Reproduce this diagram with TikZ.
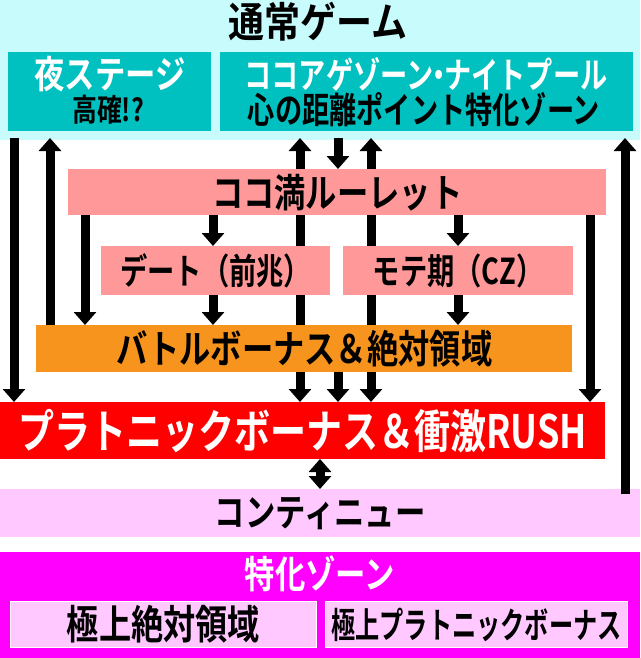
\documentclass[tikz,border=0pt]{standalone}
\usepackage{fontspec}
\setmainfont{Noto Sans CJK JP}[BoldFont={Noto Sans CJK JP Bold}]
\usetikzlibrary{arrows.meta}
\definecolor{cyanbg}{HTML}{C8FCFC}
\definecolor{teal}{HTML}{00C0C0}
\definecolor{pinkbox}{HTML}{FF9999}
\definecolor{orangebox}{HTML}{F7941D}
\definecolor{lpink}{HTML}{FFC8FF}
\definecolor{mag}{HTML}{FF00FF}
\newcommand{\cond}[1]{\scalebox{0.92}[1.15]{#1}}
\tikzset{
 box/.style={draw=none,inner sep=0pt,font=\bfseries},
 arr/.style={line width=9pt,-{Triangle[width=22pt,length=13pt]}},
 darr/.style={line width=9pt,{Triangle[width=22pt,length=13pt]}-{Triangle[width=22pt,length=13pt]}},
}
\begin{document}
\begin{tikzpicture}[x=1pt,y=-1pt]
\useasboundingbox (0,0) rectangle (640,658);
\fill[cyanbg] (0,0) rectangle (640,140);
\node[font=\bfseries\fontsize{36}{36}\selectfont] (title) at (318,22) {\scalebox{1}[1.15]{通常ゲーム}};
\node[box,fill=teal,minimum width=203pt,minimum height=79pt,anchor=north west] (yoru) at (8,52) {};
\node[box,fill=teal,minimum width=413pt,minimum height=79pt,anchor=north west] (cocoa) at (220,52) {};
% arrows behind boxes
\draw[arr] (14,138) -- (14,402);
\draw[arr] (50,325) -- (50,138);
\draw[arr] (85,215) -- (85,325);
\draw[darr] (300,138) -- (300,402);
\draw[darr] (371,138) -- (371,402);
\draw[arr] (338,138) -- (338,169);
\draw[arr] (338,372) -- (338,402);
\draw[arr] (213,215) -- (213,246);
\draw[arr] (213,295) -- (213,325);
\draw[arr] (458,215) -- (458,246);
\draw[arr] (458,295) -- (458,325);
\draw[arr] (590,215) -- (590,402);
\draw[darr] (320,459) -- (320,489);
% text boxes
\node[box,fill=pinkbox,minimum width=538pt,minimum height=46pt,anchor=north west,font=\bfseries\fontsize{34}{34}\selectfont] (coco) at (68,169) {\cond{ココ満ルーレット}};
\node[box,fill=pinkbox,minimum width=229pt,minimum height=49pt,anchor=north west,font=\bfseries\fontsize{31}{31}\selectfont] (date) at (101,246) {\scalebox{0.88}[1.15]{デート（前兆）}};
\node[box,fill=pinkbox,minimum width=230pt,minimum height=49pt,anchor=north west,font=\bfseries\fontsize{31}{31}\selectfont] (mote) at (343,246) {\scalebox{0.88}[1.15]{モテ期（CZ）}};
\node[box,fill=orangebox,minimum width=536pt,minimum height=47pt,anchor=north west,font=\bfseries\fontsize{34}{34}\selectfont] (battle) at (36,325) {\cond{バトルボーナス＆絶対領域}};
\node[box,fill=red,minimum width=605pt,minimum height=57pt,anchor=north west,text=white,font=\bfseries\fontsize{40}{40}\selectfont] (rush) at (0,402) {\scalebox{0.9}[1.15]{プラトニックボーナス＆衝激RUSH}};
\node[box,fill=lpink,minimum width=640pt,minimum height=48pt,anchor=north west,font=\bfseries\fontsize{33}{33}\selectfont] (cont) at (0,489) {\cond{コンティニュー}};
\draw[arr] (625,494) -- (625,138);
\node[box,fill=mag,minimum width=640pt,minimum height=106pt,anchor=north west] (zone) at (0,552) {};
\node[text=white,font=\bfseries\fontsize{33}{33}\selectfont] (zt) at (320,574) {\cond{特化ゾーン}};
\node[box,fill=lpink,draw=white,line width=1pt,minimum width=306pt,minimum height=46pt,anchor=north west,font=\bfseries\fontsize{35}{35}\selectfont] (gk1) at (10,601) {\cond{極上絶対領域}};
\node[box,fill=lpink,draw=white,line width=1pt,minimum width=302pt,minimum height=46pt,anchor=north west,font=\bfseries\fontsize{31}{31}\selectfont] (gk2) at (325,601) {\scalebox{0.78}[1.15]{極上プラトニックボーナス}};
% teal texts
\node[text=white,font=\bfseries\fontsize{33}{33}\selectfont] (yt1) at (110,74) {\cond{夜ステージ}};
\node[font=\bfseries\fontsize{27}{27}\selectfont] (yt2) at (108,110) {\cond{高確!?}};
\node[text=white,font=\bfseries\fontsize{32}{32}\selectfont] (ct1) at (426,74) {\scalebox{0.85}[1.12]{ココアゲゾーン\hspace{-0.3em}・\hspace{-0.3em}ナイトプール}};
\node[font=\bfseries\fontsize{32}{32}\selectfont] (ct2) at (424,110) {\scalebox{0.85}[1.12]{心の距離ポイント特化ゾーン}};
\end{tikzpicture}
\end{document}
